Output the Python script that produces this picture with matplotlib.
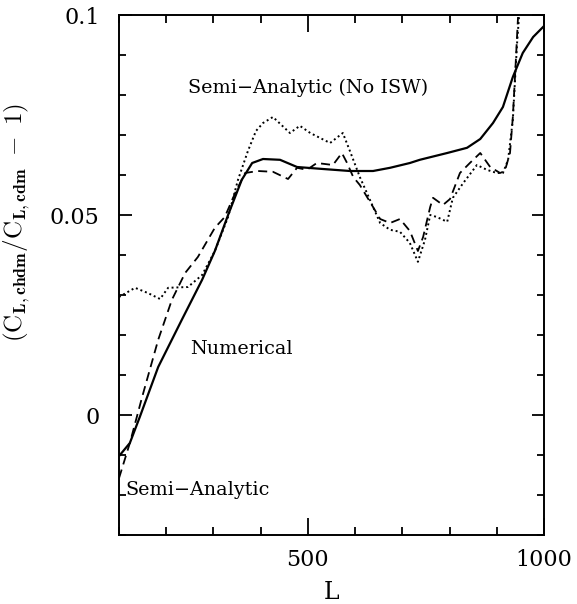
import matplotlib
matplotlib.use("Agg")
import matplotlib.pyplot as plt
from matplotlib.ticker import MultipleLocator, FixedLocator

plt.rcParams['mathtext.fontset'] = 'cm'
plt.rcParams['font.family'] = ['DejaVu Serif']

# Solid curve
L_solid = [102, 123, 144, 183, 233, 276, 303, 331, 360, 382, 405, 441, 477, 532, 589, 638, 674, 716,
           737, 795, 837, 865, 892, 913, 934, 955, 977, 998]
v_solid = [-0.010, -0.007, -0.0005, 0.012, 0.0238, 0.0338, 0.041, 0.050, 0.0588, 0.063, 0.064, 0.0638,
           0.062, 0.0615, 0.061, 0.061, 0.0618, 0.063, 0.0638, 0.0655, 0.0668, 0.069, 0.073, 0.077,
           0.0845, 0.0905, 0.0945, 0.097]

# Dashed curve
L_dash = [100, 123, 149, 183, 212, 240, 267, 303, 324, 346, 367, 394, 426, 458, 477, 498, 519, 553,
          572, 583, 596, 610, 638, 653, 674, 695, 716, 733, 744, 759, 765, 786, 801, 822, 843, 865,
          886, 907, 917, 928, 934, 939, 945]
v_dash = [-0.0158, -0.007, 0.0045, 0.0188, 0.0288, 0.0355, 0.0395, 0.0468, 0.0495, 0.0555, 0.0605,
          0.061, 0.0608, 0.059, 0.0618, 0.0613, 0.063, 0.0625, 0.0655, 0.063, 0.0595, 0.0575, 0.052,
          0.049, 0.048, 0.049, 0.046, 0.041, 0.0445, 0.052, 0.0543, 0.0525, 0.054, 0.0605, 0.063,
          0.0655, 0.062, 0.0605, 0.061, 0.0655, 0.0745, 0.0855, 0.0995]

# Dotted curve
L_dot = [100, 134, 161, 187, 204, 246, 276, 303, 331, 352, 373, 390, 405, 426, 462, 483, 505, 547,
         574, 589, 610, 625, 653, 674, 695, 716, 733, 748, 759, 773, 795, 807, 829, 858, 879, 900,
         913, 924, 934, 939, 943, 948]
v_dot = [0.0295, 0.0318, 0.0305, 0.029, 0.0318, 0.032, 0.035, 0.041, 0.0495, 0.0588, 0.066, 0.071,
         0.073, 0.0745, 0.0705, 0.0723, 0.0705, 0.068, 0.0705, 0.066, 0.0595, 0.0555, 0.048, 0.0463,
         0.0458, 0.043, 0.0383, 0.0438, 0.050, 0.0495, 0.0483, 0.0543, 0.058, 0.0625, 0.0613, 0.0605,
         0.0605, 0.0638, 0.0738, 0.0845, 0.093, 0.101]

xticks = [500, 1000]
xticklabels = ['500', '1000']
yticks = [0, 0.05, 0.1]
yticklabels = ['0', '0.05', '0.1']

fig = plt.figure(figsize=(5.77, 6.04), dpi=100)
ax = fig.add_axes([119/577, 1-535/604, 425/577, 520/604])

ax.plot(L_solid, v_solid, color='black', lw=1.6, ls='-')
ax.plot(L_dash, v_dash, color='black', lw=1.3, ls=(0, (5, 3)))
ax.plot(L_dot, v_dot, color='black', lw=1.4, ls=(0, (1, 1.5)))

ax.set_xlim(100, 1000)
ax.set_ylim(-0.03, 0.1)
ax.xaxis.set_major_locator(FixedLocator(xticks))
ax.set_xticklabels(xticklabels)
ax.xaxis.set_minor_locator(MultipleLocator(100))
ax.yaxis.set_major_locator(FixedLocator(yticks))
ax.set_yticklabels(yticklabels)
ax.yaxis.set_minor_locator(MultipleLocator(0.01))

ax.tick_params(which='both', direction='in', top=True, right=True, width=1.3, labelsize=16, colors='black')
ax.tick_params(axis='x', which='major', length=12, pad=10)
ax.tick_params(axis='x', which='minor', length=6)
ax.tick_params(axis='y', which='major', length=9, pad=14)
ax.tick_params(axis='y', which='minor', length=5)
for s in ax.spines.values():
    s.set_linewidth(1.4)

ax.set_xlabel('L', fontsize=17, labelpad=7)
ax.set_ylabel(r'$(\mathrm{C}_{\mathbf{L,chdm}}/\mathrm{C}_{\mathbf{L,cdm}}\ -\ 1)$', fontsize=18)
ax.yaxis.set_label_coords(-0.205, 0.60)

ax.text(500, 0.0818, 'Semi\u2212Analytic (No ISW)', fontsize=13.8, ha='center', va='center')
ax.text(360, 0.0165, 'Numerical', fontsize=13.8, ha='center', va='center')
ax.text(113, -0.0188, 'Semi\u2212Analytic', fontsize=13.8, ha='left', va='center')

fig.savefig('out.png', dpi=100)
